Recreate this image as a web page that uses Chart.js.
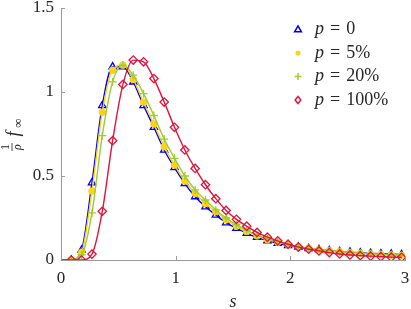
<!DOCTYPE html>
<html>
<head>
<meta charset="utf-8">
<script src="https://cdn.jsdelivr.net/npm/chart.js@4/dist/chart.umd.min.js"></script>
<style>
	html, body { margin:0; padding:0; background:#fff; }
	#wrap { width:411px; height:309px; position:relative; }
</style>
</head>
<body>
<div id="wrap"><canvas id="graph"></canvas></div>
<script>
// s values (first point only starts the line, no marker)
const sValues = [0, 0.09, 0.18, 0.27, 0.36, 0.45, 0.54, 0.63, 0.72, 0.81, 0.9, 0.99, 1.08, 1.17, 1.26, 1.35, 1.44,
	1.53, 1.62, 1.71, 1.8, 1.89, 1.98, 2.07, 2.16, 2.25, 2.34, 2.43, 2.52, 2.61, 2.7, 2.79, 2.88, 2.97]

const p0 = [0, 0, 0.06, 0.46, 0.92, 1.15, 1.15, 1.06, 0.92, 0.79, 0.655, 0.55, 0.455, 0.377, 0.317, 0.268, 0.222,
	0.189, 0.159, 0.135, 0.115, 0.099, 0.087, 0.077, 0.069, 0.062, 0.056, 0.051, 0.047, 0.043, 0.04, 0.037, 0.035, 0.033]
const p5 = [0, 0, 0.045, 0.41, 0.88, 1.13, 1.16, 1.075, 0.94, 0.81, 0.675, 0.565, 0.47, 0.397, 0.337, 0.288, 0.24,
	0.202, 0.17, 0.144, 0.122, 0.105, 0.091, 0.079, 0.07, 0.062, 0.055, 0.049, 0.044, 0.04, 0.036, 0.033, 0.03, 0.028]
const p20 = [0, 0, 0.03, 0.28, 0.74, 1.06, 1.16, 1.1, 0.99, 0.86, 0.72, 0.605, 0.5, 0.417, 0.357, 0.298, 0.25,
	0.21, 0.176, 0.148, 0.126, 0.108, 0.093, 0.081, 0.071, 0.063, 0.056, 0.05, 0.045, 0.041, 0.037, 0.034, 0.031, 0.029]
const p100 = [0, 0, 0, 0.035, 0.29, 0.71, 1.045, 1.19, 1.18, 1.08, 0.94, 0.79, 0.655, 0.545, 0.448, 0.365, 0.295,
	0.242, 0.201, 0.164, 0.136, 0.114, 0.094, 0.077, 0.064, 0.054, 0.044, 0.036, 0.03, 0.026, 0.023, 0.02, 0.017, 0.016]

const seriesNames = ['0', '5%', '20%', '100%']
const xTicks = [0, 1, 2, 3]
const yTicks = [0, 0.5, 1, 1.5]

const SERIF = "'Liberation Serif', 'DejaVu Serif', serif"
const AXIS_COLOR = '#9a9a9a'
const TEXT_COLOR = '#262626'

const styles = [
	{ color:'#0000ee', point:'triangle', fill:false, radius:4.2, order:4 },
	{ color:'#ffd21a', point:'circle', fill:true, radius:3, order:3 },
	{ color:'#9acd32', point:'cross', fill:false, radius:4, order:2 },
	{ color:'#e0143c', point:'rectRot', fill:false, radius:4.2, order:1 }
]

function toPoints(values){
	return sValues.map((s, i) => ({ x:s, y:values[i] }))
}

function makeDataset(values, i){
	const st = styles[i]
	return {
		label:'p = ' + seriesNames[i],
		data:toPoints(values),
		borderColor:st.color,
		backgroundColor:st.fill ? st.color : 'rgba(0,0,0,0)',
		pointBorderColor:st.color,
		pointBackgroundColor:st.fill ? st.color : 'rgba(0,0,0,0)',
		pointStyle:st.point,
		pointRadius:sValues.map((s, k) => k === 0 ? 0 : st.radius),
		pointBorderWidth:1.3,
		borderWidth:1.4,
		cubicInterpolationMode:'monotone',
		order:st.order
	}
}

function drawMarker(ctx, st, x, y){
	ctx.save()
	ctx.strokeStyle = st.color
	ctx.fillStyle = st.color
	ctx.lineWidth = 1.5
	const r = st.radius * 0.85
	ctx.beginPath()
	if(st.point === 'triangle'){
		ctx.moveTo(x, y - r)
		ctx.lineTo(x + r * 0.95, y + r * 0.65)
		ctx.lineTo(x - r * 0.95, y + r * 0.65)
		ctx.closePath()
		ctx.stroke()
	}else if(st.point === 'circle'){
		ctx.arc(x, y, r, 0, Math.PI * 2)
		ctx.fill()
	}else if(st.point === 'cross'){
		ctx.moveTo(x - r, y); ctx.lineTo(x + r, y)
		ctx.moveTo(x, y - r); ctx.lineTo(x, y + r)
		ctx.stroke()
	}else{
		ctx.moveTo(x, y - r); ctx.lineTo(x + r * 0.8, y)
		ctx.lineTo(x, y + r); ctx.lineTo(x - r * 0.8, y)
		ctx.closePath()
		ctx.stroke()
	}
	ctx.restore()
}

// keep the plot area fixed: no extra room for the end tick labels
function noEdgePadding(scale){
	scale.paddingTop = 0
	scale.paddingBottom = 0
	scale.paddingLeft = 0
	scale.paddingRight = 0
}

const decorPlugin = {
	id:'decor',
	afterDraw(chart){
		const ctx = chart.ctx
		const xs = chart.scales.x
		const ys = chart.scales.y
		const area = chart.chartArea

		// inward ticks
		ctx.save()
		ctx.strokeStyle = AXIS_COLOR
		ctx.lineWidth = 1
		ctx.beginPath()
		for(const t of xTicks){
			const px = Math.round(xs.getPixelForValue(t)) + 0.5
			ctx.moveTo(px, area.bottom)
			ctx.lineTo(px, area.bottom - 4)
		}
		for(const t of yTicks){
			const py = Math.round(ys.getPixelForValue(t)) + 0.5
			ctx.moveTo(area.left, py)
			ctx.lineTo(area.left + 4, py)
		}
		ctx.stroke()
		ctx.restore()

		// legend
		ctx.save()
		ctx.fillStyle = TEXT_COLOR
		ctx.textBaseline = 'middle'
		ctx.textAlign = 'left'
		seriesNames.forEach((name, i) => {
			const y = 29.5 + i * 23.5
			drawMarker(ctx, styles[i], 298, y)
			ctx.font = 'italic 18px ' + SERIF
			ctx.fillText('p', 315, y)
			let x = 315 + ctx.measureText('p').width + 6
			ctx.font = '18px ' + SERIF
			ctx.fillText('=', x, y)
			x += ctx.measureText('=').width + 6
			ctx.fillText(name, x, y)
		})
		ctx.restore()

		// x title
		ctx.save()
		ctx.fillStyle = TEXT_COLOR
		ctx.font = 'italic 18px ' + SERIF
		ctx.textAlign = 'center'
		ctx.textBaseline = 'middle'
		ctx.fillText('s', (area.left + area.right) / 2, 302)
		ctx.restore()

		// y title: 1/rho f_inf, rotated
		ctx.save()
		ctx.fillStyle = TEXT_COLOR
		ctx.strokeStyle = TEXT_COLOR
		ctx.rotate(-Math.PI / 2)
		ctx.textAlign = 'center'
		ctx.textBaseline = 'middle'
		ctx.font = '12px ' + SERIF
		ctx.fillText('1', -147, 6)
		ctx.lineWidth = 0.8
		ctx.beginPath()
		ctx.moveTo(-151, 12)
		ctx.lineTo(-143, 12)
		ctx.stroke()
		ctx.font = 'italic 12px ' + SERIF
		ctx.fillText('ρ', -147, 18)
		ctx.font = 'italic 18px ' + SERIF
		ctx.textBaseline = 'alphabetic'
		ctx.fillText('f', -134, 19)
		ctx.font = '13px ' + SERIF
		ctx.textBaseline = 'middle'
		ctx.fillText('∞', -123, 19)
		ctx.restore()
	}
}

new Chart(document.getElementById('graph'), {
	type:'line',
	data:{
		datasets:[makeDataset(p0, 0), makeDataset(p5, 1), makeDataset(p20, 2), makeDataset(p100, 3)]
	},
	options:{
		responsive:true,
		maintainAspectRatio:false,
		animation:false,
		layout:{ padding:{ top:8, right:6, left:0, bottom:0 } },
		plugins:{
			legend:{ display:false },
			tooltip:{ enabled:false }
		},
		scales:{
			x:{
				type:'linear',
				min:0,
				max:3,
				afterFit: scale => { scale.height = 49; noEdgePadding(scale) },
				afterBuildTicks: scale => { scale.ticks = xTicks.map(v => ({ value:v })) },
				grid:{ display:false, drawTicks:false },
				border:{ display:true, color:AXIS_COLOR, width:1 },
				ticks:{ padding:8, color:TEXT_COLOR, font:{ family:SERIF, size:17 }, maxRotation:0 }
			},
			y:{
				min:0,
				max:1.5,
				afterFit: scale => { scale.width = 61; noEdgePadding(scale) },
				afterBuildTicks: scale => { scale.ticks = yTicks.map(v => ({ value:v })) },
				grid:{ display:false, drawTicks:false },
				border:{ display:true, color:AXIS_COLOR, width:1 },
				ticks:{ padding:7, color:TEXT_COLOR, font:{ family:SERIF, size:17 }, callback: v => String(v) }
			}
		}
	},
	plugins:[decorPlugin]
})
</script>
</body>
</html>
